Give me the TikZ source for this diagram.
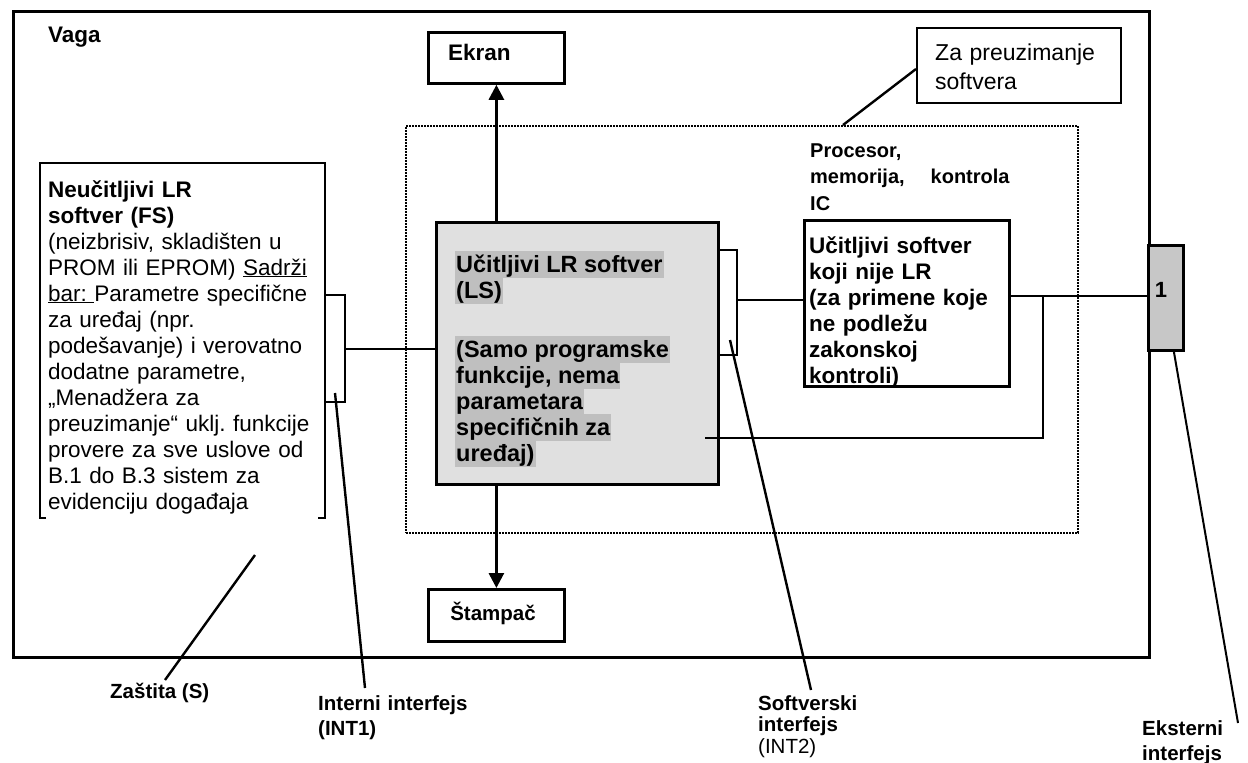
\documentclass[tikz,border=0pt]{standalone}
\usepackage{fontspec}
\setmainfont{Liberation Sans}
\usetikzlibrary{arrows.meta}
\frenchspacing
\begin{document}
\begin{tikzpicture}[x=1pt,y=-1pt,
  frame/.style={draw, line width=2.8pt, inner sep=0pt, anchor=north west},
  conn/.style={line width=2.8pt},
  lead/.style={line width=2.4pt},
  arr/.style={line width=2.8pt, -{Triangle[length=15pt,width=15pt]}},
  txt/.style={inner sep=0pt, anchor=base west, align=left, font=\fontsize{22.5}{26}\selectfont},
  btxt/.style={txt, font=\fontsize{22.5}{26}\selectfont\bfseries},
  lab/.style={inner sep=0pt, anchor=base west, align=left},
  hl/.style={fill=black!25, inner xsep=1pt, inner ysep=0pt, text height=21pt, text depth=6pt, anchor=base west, font=\fontsize{23.5}{26}\selectfont\bfseries},
]
\frenchspacing
\useasboundingbox (0,0) rectangle (1248,763);

% outer scale box
\node[frame, minimum width=1136pt, minimum height=646pt] (vaga) at (12,10) {};
\node[btxt] (vagat) at (48,42) {Vaga};

% dotted processor area
\node[draw, line width=2pt, dash pattern=on 1.6pt off 1.4pt, inner sep=0pt, anchor=north west,
      minimum width=672pt, minimum height=407pt] (proc) at (405,125) {};

% boxes
\node[frame, minimum width=136pt, minimum height=51pt] (ekran) at (427,31) {};
\node[btxt] (ekrant) at (448,60) {Ekran};

\node[frame, line width=2.4pt, minimum width=204pt, minimum height=75pt] (za) at (916,27) {};
\node[txt, text width=190pt, font=\fontsize{23}{29}\selectfont] (zat) at (935,60) {Za preuzimanje\\softvera};

\node[frame, fill=black!12, minimum width=282pt, minimum height=262pt] (ls) at (435,221) {};
\node[hl] (ls1) at (455,272) {Učitljivi LR softver};
\node[hl] (ls2) at (455,298) {(LS)};
\node[hl] (ls3) at (455,357) {(Samo programske};
\node[hl] (ls4) at (455,383) {funkcije, nema};
\node[hl] (ls5) at (455,409) {parametara};
\node[hl] (ls6) at (455,435) {specifičnih za};
\node[hl] (ls7) at (455,461) {uređaj)};

\node[btxt, text width=240pt, font=\fontsize{20}{26.5}\selectfont\bfseries] (proct) at (810,157)
  {Procesor,\\memorija,\hspace{26pt}kontrola\\IC};

\node[frame, fill=white, minimum width=205pt, minimum height=166pt] (nonlr) at (803,219) {};
\node[btxt, text width=195pt] (nonlrt) at (809,253)
  {Učitljivi softver\\koji nije LR\\(za primene koje\\ne podležu\\zakonskoj\\kontroli)};

\node[frame, fill=black!22, minimum width=35pt, minimum height=105pt] (one) at (1147,244) {};
\node[inner sep=0pt, anchor=base, font=\fontsize{22}{26}\selectfont\bfseries] (onet) at (1161,297) {1};

\node[frame, minimum width=136pt, minimum height=52pt] (stampac) at (427,588) {};
\node[inner sep=0pt, anchor=base, font=\fontsize{20.5}{26}\selectfont\bfseries] (stampact) at (493,620) {Štampač};

% fixed (non-loadable) software box, open at the bottom
\coordinate (fsnw) at (40,163);
\coordinate (fsne) at (325,163);
\coordinate (fssw) at (40,518);
\coordinate (fsse) at (325,518);
\draw[conn] ([xshift=6pt]fssw) -- (fssw) -- (fsnw) -- (fsne) -- (fsse) -- ([xshift=-7pt]fsse);
\node[txt, text width=290pt] (fst) at (48,197)
  {\textbf{Neučitljivi LR}\\\textbf{softver (FS)}\\(neizbrisiv, skladišten u\\PROM ili EPROM) \underline{Sadrži}\\\underline{bar:\ }Parametre specifične\\za uređaj (npr.\\podešavanje) i verovatno\\dodatne parametre,\\„Menadžera za\\preuzimanje“ uklj. funkcije\\provere za sve uslove od\\B.1 do B.3 sistem za\\evidenciju događaja};

% interface brackets and connectors
\coordinate (b1t) at (345,295);
\coordinate (b1b) at (345,402);
\coordinate (b1m) at (345,349);
\draw[conn] (fsne |- b1t) -- (b1t) -- (b1b) -- (fsne |- b1b);
\draw[conn] (b1m) -- (b1m -| ls.west);

\coordinate (b2t) at (737,250);
\coordinate (b2b) at (737,355);
\coordinate (b2m) at (737,300);
\draw[conn] (ls.east |- b2t) -- (b2t) -- (b2b) -- (ls.east |- b2b);
\draw[conn] (b2m) -- (b2m -| nonlr.west);

\coordinate (ext) at (1043,296);
\coordinate (lsin) at (705,438);
\draw[conn] (nonlr.east |- ext) -- (ext) -- (one.west |- ext);
\draw[conn] (lsin) -- (lsin -| ext) -- (ext);

\draw[arr] (ls.north -| ekran.south) -- (ekran.south);
\draw[arr] (ls.south -| stampac.north) -- (stampac.north);

% leader to download box
\coordinate (zaa) at (843,125);
\draw[lead] (zaa) -- (za.west |- 0,69);

% bottom labels and leaders
\node[lab, font=\fontsize{20.5}{24}\selectfont\bfseries] (zas) at (110,698) {Zaštita (S)};
\node[lab, text width=200pt, font=\fontsize{20.5}{25}\selectfont\bfseries] (int1) at (318,710) {Interni interfejs\\(INT1)};
\node[lab, text width=130pt, font=\fontsize{20.5}{21.5}\selectfont\bfseries] (int2) at (758,710) {Softverski\\interfejs\\\mdseries(INT2)};
\node[lab, text width=100pt, font=\fontsize{20.5}{25}\selectfont\bfseries] (extl) at (1142,735) {Eksterni\\interfejs};

\coordinate (s1) at (255,555);
\coordinate (s2) at (165,680);
\draw[lead] (s1) -- (s2);
\coordinate (i1a) at (335,393);
\coordinate (i1b) at (365,688);
\draw[lead] (i1a) -- (i1b);
\coordinate (i2a) at (730,340);
\coordinate (i2b) at (811,690);
\draw[lead] (i2a) -- (i2b);
\coordinate (e1) at (1238,723);
\draw[line width=2pt] (one.south) ++(8,0) -- (e1);
\end{tikzpicture}
\end{document}
